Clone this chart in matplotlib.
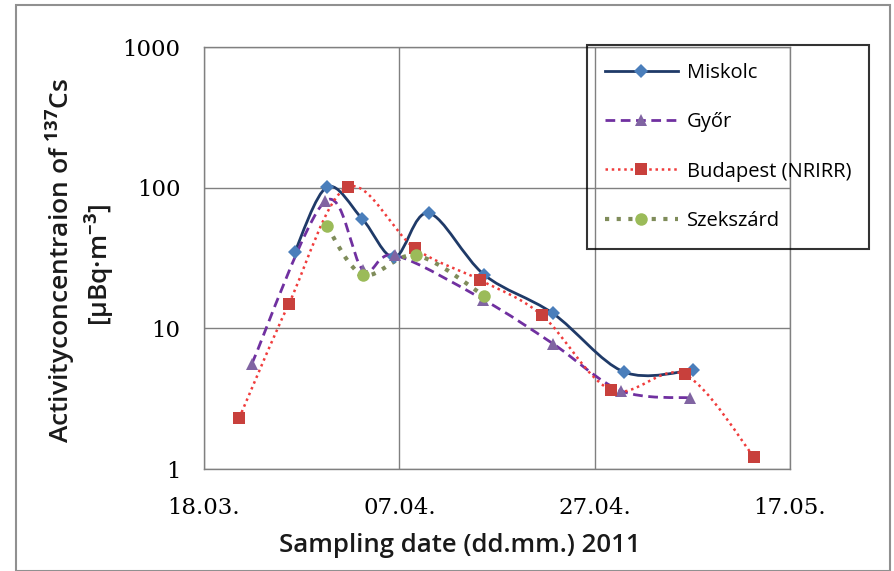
import numpy as np
import matplotlib
matplotlib.use("Agg")
import matplotlib.pyplot as plt
from matplotlib.path import Path
from matplotlib.patches import PathPatch, Rectangle
from matplotlib.lines import Line2D

plt.rcParams['mathtext.fontset'] = 'custom'
plt.rcParams['mathtext.rm'] = 'Open Sans'
plt.rcParams['mathtext.it'] = 'Open Sans'
plt.rcParams['mathtext.bf'] = 'Open Sans:bold'

# days after 18.03.2011
miskolc_day = [9.3, 12.6, 16.2, 19.5, 23.0, 28.7, 35.7, 43.0, 50.1]
miskolc_val = [35, 101, 60, 32, 66, 24, 12.8, 4.9, 5.05]

gyor_day = [4.9, 12.4, 16.3, 19.6, 28.6, 35.7, 42.7, 49.8]
gyor_val = [5.6, 80, 26, 33, 16, 7.8, 3.6, 3.2]

budapest_day = [3.6, 8.7, 14.7, 21.6, 28.3, 34.6, 41.7, 49.2, 56.3]
budapest_val = [2.3, 15, 101, 37, 22, 12.4, 3.64, 4.7, 1.22]

szekszard_day = [12.6, 16.3, 21.75, 28.7]
szekszard_val = [53, 24, 33, 17]

xtick_pos = [0, 20, 40, 60]
xtick_labels = ['18.03.', '07.04.', '27.04.', '17.05.']
ytick_pos = [1, 10, 100, 1000]
ytick_labels = ['1', '10', '100', '1000']


def smooth_path(xs, ys):
    # excel-like smoothed line: bezier through points, built in (x, log y)
    P = np.column_stack([np.asarray(xs, float), np.log10(ys)])
    n = len(P)
    verts = [P[0]]
    codes = [Path.MOVETO]
    for i in range(n - 1):
        a = P[i - 1] if i > 0 else P[i]
        d = P[i + 2] if i + 2 < n else P[i + 1]
        c1 = P[i] + (P[i + 1] - a) / 6.0
        c2 = P[i + 1] - (d - P[i]) / 6.0
        verts += [c1, c2, P[i + 1]]
        codes += [Path.CURVE4] * 3
    verts = np.array(verts)
    verts[:, 1] = 10 ** verts[:, 1]
    return Path(verts, codes)


fig = plt.figure(figsize=(8.95, 5.71), dpi=100)
ax = fig.add_axes([204 / 895, 1 - 469 / 571, 586 / 895, 422 / 571])
ax.set_yscale('log')
ax.set_xlim(0, 60)
ax.set_ylim(1, 1000)

series = [
    ('Miskolc', miskolc_day, miskolc_val, '#1F3A68', '-', 2.0, 'D', '#4A7EBB', 7),
    ('Győr', gyor_day, gyor_val, '#7030A0', (0, (3.5, 2)), 2.0, '^', '#8064A2', 9),
    ('Budapest (NRIRR)', budapest_day, budapest_val, '#F03C3C', (0, (1, 1.5)), 1.8, 's', '#C8403C', 9),
    ('Szekszárd', szekszard_day, szekszard_val, '#7F8C5A', (0, (1, 1.8)), 3.0, 'o', '#9BBB59', 9),
]

handles = []
for name, xd, yd, lc, ls, lw, mk, mc, ms in series:
    patch = PathPatch(smooth_path(xd, yd), facecolor='none', edgecolor=lc,
                      linestyle=ls, linewidth=lw, zorder=3)
    ax.add_patch(patch)
    ax.plot(xd, yd, linestyle='none', marker=mk, color=mc, markersize=ms,
            markeredgewidth=0, zorder=4)
    handles.append(Line2D([], [], color=lc, linestyle=ls, linewidth=lw,
                          marker=mk, markerfacecolor=mc, markeredgewidth=0,
                          markersize=ms))

ax.set_xticks(xtick_pos)
ax.set_xticklabels(xtick_labels)
ax.set_yticks(ytick_pos)
ax.set_yticklabels(ytick_labels)
ax.yaxis.set_minor_locator(matplotlib.ticker.NullLocator())
ax.tick_params(length=0, labelsize=16.5, labelcolor='black')
ax.tick_params(axis='y', pad=17)
ax.tick_params(axis='x', pad=20)
for lab in ax.get_xticklabels() + ax.get_yticklabels():
    lab.set_family('DejaVu Serif')
ax.grid(True, color='#808080', linewidth=1)
ax.set_axisbelow(True)
for sp in ax.spines.values():
    sp.set_color('#808080')
    sp.set_linewidth(1)

fig.text(60 / 895, 1 - 261 / 571, r'Activityconcentraion of $\mathbf{^{137}}$Cs',
         rotation=90, ha='center', va='center', family='Open Sans',
         fontsize=19, fontweight='semibold', color='#1a1a1a')
fig.text(99 / 895, 1 - 265 / 571, r'[µBq·m$\mathbf{^{-3}}$]',
         rotation=90, ha='center', va='center', family='Open Sans',
         fontsize=19, fontweight='semibold', color='#1a1a1a')
fig.text(460 / 895, 1 - 546 / 571, 'Sampling date (dd.mm.) 2011',
         ha='center', va='center', family='Open Sans', fontsize=18.5,
         fontweight='semibold', color='#1a1a1a')

leg = fig.legend(handles, [s[0] for s in series], loc='upper left',
                 bbox_to_anchor=(587 / 895, 1 - 45 / 571),
                 bbox_transform=fig.transFigure, borderaxespad=0,
                 prop={'family': 'Open Sans', 'size': 14.5},
                 handlelength=3.6, handletextpad=0.45, labelspacing=1.45,
                 borderpad=0.9, fancybox=False)
leg.get_frame().set_facecolor('none')
leg.get_frame().set_edgecolor('black')
leg.get_frame().set_linewidth(1.5)

fig.patches.append(Rectangle((16 / 895, 0), 874 / 895, 1 - 5 / 571,
                             transform=fig.transFigure, fill=False,
                             edgecolor='#909090', linewidth=1.5))

fig.savefig('out.png', dpi=100)
